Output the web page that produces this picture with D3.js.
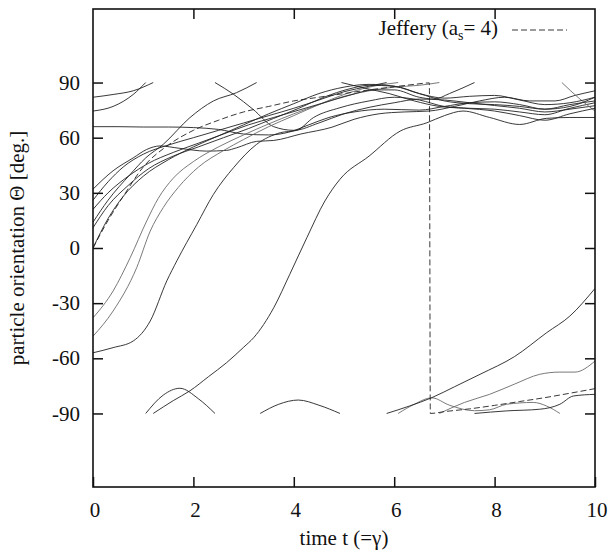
<!DOCTYPE html>
<html>
<head>
<meta charset="utf-8">
<script src="https://cdn.jsdelivr.net/npm/d3@7"></script>
<style>
  body { margin: 0; background: #fff; }
  svg { display: block; }
  svg text { font-family: "Liberation Serif", "Times New Roman", serif; }
</style>
</head>
<body>
<div id="vis"></div>
<script>
// axis ticks
const timeTicks = [0, 2, 4, 6, 8, 10]
const thetaTicks = [-90, -60, -30, 0, 30, 60, 90]

// Jeffery orbit (a_s = 4)
const jeffery = [[0,0],[0.3,15],[0.6,28],[1,44],[1.5,56],[2,64],[2.5,69.5],[3,74],[3.5,77],[4,80],[4.5,82],[5,84],[5.5,86],[6,87.7],[6.4,89],[6.7,89.8],
  [6.72,-90],[7,-89],[7.5,-87.5],[8,-85.6],[8.5,-83.5],[9,-81.4],[9.5,-79],[10,-76.5]]

// particle orientations [t, theta]; a particle is split where it wraps 90 -> -90
const particles = [
  [[[0,82],[0.4,83.5],[0.8,85.5],[1.2,90]],
   [[1.2,-90],[1.6,-83],[1.93,-77.7],[2.3,-70],[2.66,-62.4],[3.0,-54],[3.2,-48.8],[3.6,-32.5],[3.92,-14.3],[4.26,5.6],[4.62,25.6],[4.92,37.4],[5.5,50],[6.12,63.6],[6.65,68.1],[7.0,72],[7.37,74.5],[7.9,71],[8.5,67.2],[9.03,70.5],[9.5,71],[10,71]]],
  [[[0,74.5],[0.4,77],[0.8,83.5],[1.05,90]],
   [[1.05,-90],[1.4,-80],[1.73,-76.3],[2.1,-82],[2.43,-90]],
   [[2.43,90],[2.8,83.6],[3.19,75.4],[3.6,66],[4.0,64],[4.5,68],[5,73],[5.5,76.5],[6,79],[6.5,81],[7,80.5],[7.5,79],[8,77.5],[8.5,76],[9,74],[9.5,75.5],[10,77.4]]],
  [[[0,66],[0.5,66],[1,65.8],[1.5,65.8],[2,65.5],[2.5,64.5],[3,62],[3.5,61.5],[3.9,63],[4.3,67],[4.7,71],[5.2,74],[5.8,75.5],[6.5,75],[7,77],[7.5,79],[8,79.5],[8.5,78],[9,75.5],[9.5,78],[10,80]]],
  [[[0,32],[0.4,42],[0.8,49],[1.07,53.6],[1.33,55.5],[1.73,54.2],[2.26,52.7],[2.66,53.1],[2.86,54.5],[3.26,58],[3.6,58.5],[4.14,62],[4.76,65.7],[5.2,70],[5.7,73],[6.2,74],[6.7,74.5],[7.2,77],[7.7,80],[8.2,82],[8.7,80],[9.2,80],[9.6,83],[10,85.5]]],
  [[[0,-57],[0.4,-54.2],[0.8,-50.6],[1.14,-39.7],[1.47,-17.9],[1.67,-7],[2.07,12.9],[2.4,29.2],[2.8,43.7],[3.26,56.4],[3.73,62.7],[4.06,64],[4.39,70.9],[4.92,76.3],[5.5,80],[6,82],[6.5,80.5],[7,77],[7.5,76],[8,75.5],[8.5,74],[9,72.5],[9.5,76],[10,79]]],
  [[[0,-38],[0.4,-23.4],[0.74,-5.3],[1.07,14.7],[1.3,27],[1.6,38],[2,47],[2.5,55],[3,61.5],[3.5,67.5],[4,73],[4.5,78],[5,82.5],[5.5,85.5],[6,87.5],[6.5,88.5],[6.9,90]],
   [[6.9,-90],[7.4,-84],[7.9,-79.6],[8.4,-74],[8.9,-68.7],[9.3,-67.5],[9.6,-67.5],[10,-61.5]]],
  [[[0,-48],[0.4,-34.3],[0.87,-10.7],[1.14,9.2],[1.4,22],[1.7,33],[2.1,44],[2.6,53],[3,59],[3.5,66],[4,72],[4.5,78],[5,83.5],[5.5,87.5],[6.08,90]],
   [[6.08,-90],[6.4,-85],[6.75,-81.5],[7.1,-85.5],[7.6,-88.5],[7.9,-88],[8.24,-85],[8.77,-84],[9.04,-86],[9.3,-90]],
   [[9.34,90],[9.7,81],[10,74.5]]],
  [[[0,26],[0.3,36],[0.6,44],[1,51],[1.5,56],[2,60],[2.5,64],[3,68],[3.5,72],[4,76],[4.5,80.5],[5,85],[5.5,88],[5.85,90]],
   [[5.85,-90],[6.3,-86],[6.75,-81.4],[7.2,-75.5],[7.71,-68.7],[8.4,-59],[9.04,-46],[9.5,-37],[10,-22]]],
  [[[0,21],[0.3,30],[0.7,39],[1.1,46],[1.6,52],[2.1,57],[2.6,62],[3.1,67],[3.6,71],[4.1,75],[4.6,79],[5.1,83],[5.6,86],[6.0,86],[6.5,82],[6.8,81],[7.1,84],[7.6,90]],
   [[7.6,-90],[8.24,-88.6],[8.9,-87.7],[9.3,-85],[9.57,-80.5],[10,-79.6]]],
  [[[0,14],[0.3,26],[0.74,40],[1.05,49],[1.4,56.4],[1.93,70.9],[2.4,80],[2.86,84.5],[3.26,90]],
   [[3.33,-90],[3.7,-85],[4.09,-82.7],[4.5,-85.5],[4.92,-90]],
   [[4.95,90],[5.4,87],[5.9,84],[6.4,80],[6.9,77],[7.4,76],[8,74.5],[8.5,72],[9,69.5],[9.5,73],[10,76]]],
  [[[0,11],[0.3,23],[0.7,34],[1.1,43],[1.6,50],[2.1,55],[2.6,60],[3.1,65],[3.6,70.5],[4.1,76],[4.6,82],[5.1,86.5],[5.5,88.5],[6,88],[6.5,84],[7,80],[7.5,78.5],[8,78],[8.5,77],[9,75.5],[9.5,77],[10,82]]],
  [[[0,0],[0.3,16],[0.6,28],[1,39],[1.5,48],[2,55],[2.5,61],[3,67],[3.5,73],[4,78.5],[4.5,84],[5,87.5],[5.5,89],[6,88],[6.5,84],[7,81.5],[7.5,82.5],[8,83],[8.5,80.5],[9,78],[9.5,79],[10,82]]]
]
// the two lighter traces in the scan
const grayParticles = [5, 6]

const width = 611
const height = 558
const margin = { top: 9, right: 16, bottom: 71, left: 93 }

const x = d3.scaleLinear().domain([0, 10]).range([margin.left, width - margin.right])
const y = d3.scaleLinear().domain([-130, 130]).range([height - margin.bottom, margin.top])

const svg = d3.select("#vis").append("svg")
  .attr("width", width)
  .attr("height", height)

svg.append("defs").append("clipPath").attr("id", "plot-clip")
  .append("rect")
  .attr("x", x(0)).attr("y", y(130))
  .attr("width", x(10) - x(0)).attr("height", y(-130) - y(130))

const line = d3.line()
  .x(d => x(d[0]))
  .y(d => y(d[1]))
  .curve(d3.curveMonotoneX)

const plot = svg.append("g").attr("clip-path", "url(#plot-clip)")

// particle traces
particles.forEach((segments, i) => {
  plot.append("g")
    .attr("fill", "none")
    .attr("stroke", grayParticles.includes(i) ? "#6a6a6a" : "#222")
    .attr("stroke-width", 0.9)
    .selectAll("path")
    .data(segments)
    .join("path")
    .attr("d", line)
})

// Jeffery orbit
plot.append("path")
  .datum(jeffery)
  .attr("fill", "none")
  .attr("stroke", "#222")
  .attr("stroke-width", 0.9)
  .attr("stroke-dasharray", "6,3")
  .attr("d", line)

// tick marks pointing inwards on all four sides (labels drawn separately below)
const fontSize = 21
const styleAxis = g => g
  .call(g => g.select(".domain").remove())
  .call(g => g.selectAll(".tick text").remove())
  .call(g => g.selectAll(".tick line").attr("stroke", "#111").attr("stroke-width", 1.5))

svg.append("g")
  .attr("transform", `translate(0,${y(-130)})`)
  .call(d3.axisBottom(x).tickValues(timeTicks).tickSize(-10))
  .call(styleAxis)

svg.append("g")
  .attr("transform", `translate(0,${y(130)})`)
  .call(d3.axisTop(x).tickValues(timeTicks.slice(1, -1)).tickSize(-10))
  .call(styleAxis)

svg.append("g")
  .attr("transform", `translate(${x(0)},0)`)
  .call(d3.axisLeft(y).tickValues(thetaTicks).tickSize(-10))
  .call(styleAxis)

svg.append("g")
  .attr("transform", `translate(${x(10)},0)`)
  .call(d3.axisRight(y).tickValues(thetaTicks).tickSize(-10))
  .call(styleAxis)

// tick labels
svg.append("g")
  .attr("font-size", fontSize)
  .attr("fill", "#111")
  .attr("text-anchor", "middle")
  .selectAll("text")
  .data(timeTicks)
  .join("text")
  .attr("x", d => x(d) + 2)
  .attr("y", y(-130) + 30)
  .text(d => d)

svg.append("g")
  .attr("font-size", fontSize)
  .attr("fill", "#111")
  .attr("text-anchor", "end")
  .selectAll("text")
  .data(thetaTicks)
  .join("text")
  .attr("x", x(0) - 13)
  .attr("y", d => y(d))
  .attr("dy", "0.34em")
  .text(d => d)

// frame
svg.append("rect")
  .attr("x", x(0)).attr("y", y(130))
  .attr("width", x(10) - x(0)).attr("height", y(-130) - y(130))
  .attr("fill", "none")
  .attr("stroke", "#111")
  .attr("stroke-width", 1.6)

// axis titles
svg.append("text")
  .attr("x", (x(0) + x(10)) / 2)
  .attr("y", 545)
  .attr("text-anchor", "middle")
  .attr("font-size", fontSize)
  .attr("fill", "#111")
  .text("time t (=γ)")

svg.append("text")
  .attr("transform", `translate(24,${(y(130) + y(-130)) / 2}) rotate(-90)`)
  .attr("text-anchor", "middle")
  .attr("font-size", fontSize)
  .attr("fill", "#111")
  .text("particle orientation Θ [deg.]")

// legend
const legend = svg.append("g").attr("fill", "#111").attr("font-size", fontSize)
const legendText = legend.append("text")
  .attr("x", 498)
  .attr("y", 35)
  .attr("text-anchor", "end")
legendText.append("tspan").text("Jeffery (a")
legendText.append("tspan").attr("dy", 5).attr("font-size", 14).text("s")
legendText.append("tspan").attr("dy", -5).text("= 4)")

legend.append("line")
  .attr("x1", 512).attr("x2", 567)
  .attr("y1", 30).attr("y2", 30)
  .attr("stroke", "#222")
  .attr("stroke-width", 0.9)
  .attr("stroke-dasharray", "6,3")
</script>
</body>
</html>
